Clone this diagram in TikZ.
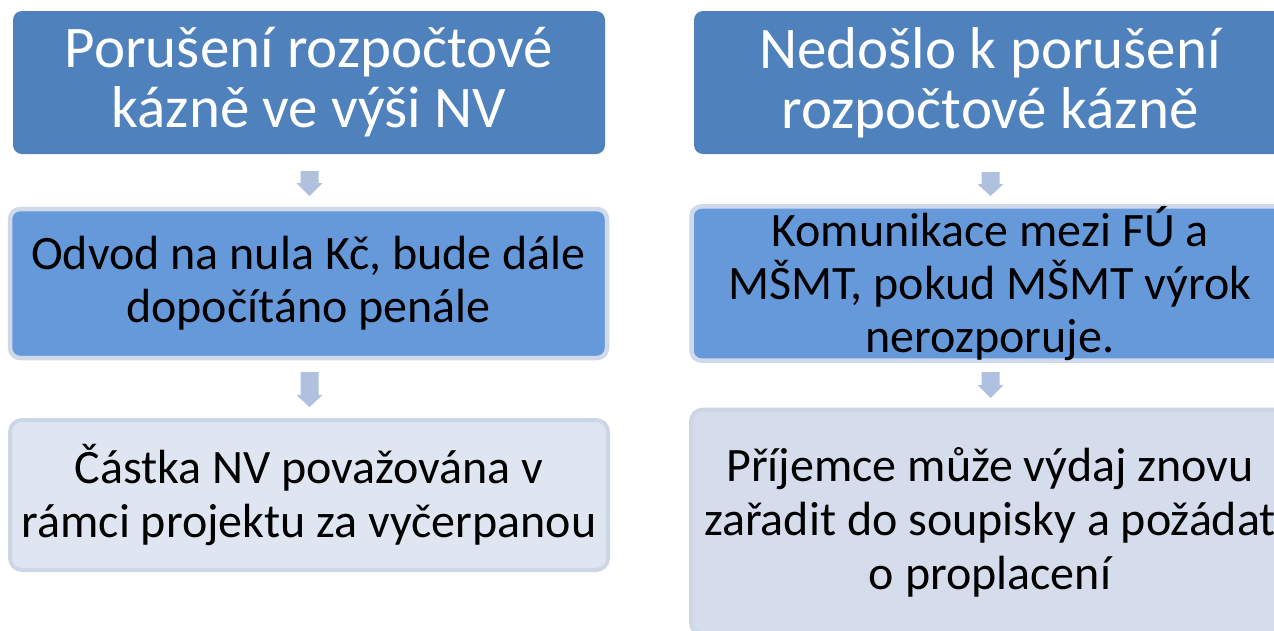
\documentclass[tikz,border=0pt]{standalone}
\usepackage{fontspec}
\setmainfont{Carlito}
\definecolor{topc}{HTML}{4F81BD}
\definecolor{midc}{HTML}{6699DA}
\definecolor{midb}{HTML}{D0D9E9}
\definecolor{lowl}{HTML}{DFE6F2}
\definecolor{lowr}{HTML}{D5DCEB}
\definecolor{lowb}{HTML}{CDD6E6}
\definecolor{arrowc}{HTML}{B0C1DF}
\tikzset{
  topbox/.style={fill=topc, draw=none, rounded corners=9pt, minimum width=592pt, minimum height=143pt, text=white, align=center, font=\fontsize{59}{60}\selectfont, inner sep=0pt},
  midbox/.style={fill=midc, draw=midb, line width=4.5pt, rounded corners=10pt, minimum width=597pt, minimum height=149pt, align=center, font=\fontsize{48}{53}\selectfont, inner sep=0pt},
  lowbox/.style={draw=lowb, line width=4pt, rounded corners=12pt, minimum width=598pt, align=center, font=\fontsize{48}{54}\selectfont, inner sep=0pt},
  downarrow/.style={fill=arrowc, draw=none}
}
\begin{document}
\begin{tikzpicture}[x=1pt,y=-1pt]
\useasboundingbox (0,0) rectangle (1274,630);
\clip (0,0) rectangle (1274,630);
% left column
\node[topbox] (l1) at (309,82.5) {Porušení rozpočtové\\kázně ve výši NV};
\node[midbox] (l2) at (308.5,283.5) {Odvod na nula Kč, bude dále\\dopočítáno penále};
\node[lowbox, fill=lowl, minimum height=150pt] (l3) at (309,495) {Částka NV považována v\\rámci projektu za vyčerpanou};
% right column
\node[topbox] (r1) at (990,82.5) {Nedošlo k porušení\\rozpočtové kázně};
\node[midbox] (r2) at (990,283.5) {Komunikace mezi FÚ a\\MŠMT, pokud MŠMT výrok\\nerozporuje.};
\node[lowbox, fill=lowr, minimum height=225pt] (r3) at (990,522) {Příjemce může výdaj znovu\\zařadit do soupisky a požádat\\o proplacení};
% arrows
\coordinate (a1) at (309.5,171);
\coordinate (a2) at (309.5,372);
\coordinate (a3) at (990.5,172);
\coordinate (a4) at (990.5,372);
\fill[downarrow] (a1) ++(-9,0) -- ++(18,0) -- ++(0,12) -- ++(4,0) -- ++(-13,13) -- ++(-13,-13) -- ++(4,0) -- cycle;
\fill[downarrow] (a2) ++(-9,0) -- ++(18,0) -- ++(0,23) -- ++(4,0) -- ++(-13,12) -- ++(-13,-12) -- ++(4,0) -- cycle;
\fill[downarrow] (a3) ++(-9,0) -- ++(18,0) -- ++(0,12) -- ++(4,0) -- ++(-13,12) -- ++(-13,-12) -- ++(4,0) -- cycle;
\fill[downarrow] (a4) ++(-9,0) -- ++(18,0) -- ++(0,13) -- ++(4,0) -- ++(-13,13) -- ++(-13,-13) -- ++(4,0) -- cycle;
\end{tikzpicture}
\end{document}
